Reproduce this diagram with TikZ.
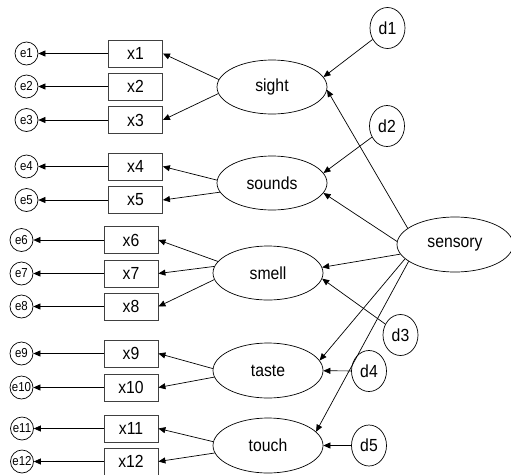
\documentclass[tikz,border=0pt]{standalone}
\usepackage{fontspec}
\setmainfont{Liberation Sans}
\newfontfamily\condfont[FakeStretch=0.9]{Liberation Sans}
\newfontfamily\condsmall[FakeStretch=0.88]{Liberation Sans}
\usetikzlibrary{arrows.meta,shapes.geometric}
\begin{document}
\begin{tikzpicture}[x=1pt,y=-1pt,
 box/.style={draw=black!75,line width=0.8pt,minimum width=54pt,minimum height=27pt,inner sep=0pt,font=\condfont\fontsize{17.5}{17.5}\selectfont},
 lat/.style={draw,ellipse,line width=0.7pt,minimum width=110pt,minimum height=54pt,inner sep=0pt,font=\condfont\fontsize{17.5}{17.5}\selectfont},
 err/.style={draw,circle,line width=0.7pt,minimum size=23pt,inner sep=0pt,font=\condsmall\fontsize{13}{13}\selectfont},
 dist/.style={draw,ellipse,line width=0.7pt,minimum width=35pt,minimum height=41pt,inner sep=0pt,font=\condfont\fontsize{17.5}{17.5}\selectfont},
 arr/.style={-{Triangle[length=7pt,width=6pt]},line width=0.7pt}]
\useasboundingbox (0,0) rectangle (511,474);
% error terms
\node[err] (e1) at (26.5,53.5) {e1};
\node[err] (e2) at (26.5,86.5) {e2};
\node[err] (e3) at (26.5,120) {e3};
\node[err] (e4) at (26.5,166.5) {e4};
\node[err] (e5) at (26.5,200) {e5};
\node[err] (e6) at (21.5,240) {e6};
\node[err] (e7) at (21.5,273.5) {e7};
\node[err] (e8) at (21.5,306.5) {e8};
\node[err] (e9) at (21.5,353.5) {e9};
\node[err] (e10) at (21.5,387.5) {e10};
\node[err] (e11) at (22,428.5) {e11};
\node[err] (e12) at (22,461.5) {e12};
% indicators
\node[box] (x1) at (135.5,53.5) {x1};
\node[box] (x2) at (135.5,86.5) {x2};
\node[box] (x3) at (135.5,120) {x3};
\node[box] (x4) at (135.5,166.5) {x4};
\node[box] (x5) at (135.5,200) {x5};
\node[box] (x6) at (131,240) {x6};
\node[box] (x7) at (131,273.5) {x7};
\node[box] (x8) at (131,306.5) {x8};
\node[box] (x9) at (131,353.5) {x9};
\node[box] (x10) at (131,387.5) {x10};
\node[box] (x11) at (131,428.5) {x11};
\node[box] (x12) at (131,461.5) {x12};
% latent
\node[lat] (sight) at (272,87) {sight};
\node[lat] (sounds) at (272,183) {sounds};
\node[lat] (smell) at (268,273) {smell};
\node[lat,minimum height=55pt] (taste) at (268,370.5) {taste};
\node[lat,minimum height=55pt] (touch) at (268,445.5) {touch};
\node[lat,minimum width=116pt,minimum height=55pt] (sensory) at (455,244.5) {sensory};
% disturbances
\node[dist] (d1) at (387.5,28) {d1};
\node[dist] (d2) at (387,126) {d2};
\node[dist] (d3) at (400.5,335) {d3};
\node[dist] (d4) at (369,371) {d4};
\node[dist] (d5) at (369,445.5) {d5};
% indicator -> error
\foreach \i in {1,...,12} {\draw[arr] (x\i) -- (e\i);}
% latent -> indicator
\draw[arr] (sight.172) -- (x1.east);
\draw[arr] (sight.187) -- (x3.east);
\draw[arr] (sounds.177) -- (x4.east);
\draw[arr] (sounds.190) -- (x5.east);
\draw[arr] (smell.167) -- (x6.east);
\draw[arr] (smell.173) -- (x7.east);
\draw[arr] (smell.187) -- (x8.east);
\draw[arr] (taste.178) -- (x9.east);
\draw[arr] (taste.187) -- (x10.east);
\draw[arr] (touch.176) -- (x11.east);
\draw[arr] (touch.188) -- (x12.east);
% second order
\draw[arr] (d1) -- (sight.11);
\draw[arr] (sensory.161) -- (sight.-3);
\draw[arr] (d2) -- (sounds.11);
\draw[arr] (sensory.177) -- (sounds.-11);
\draw[arr] (sensory.190) -- (smell.6);
\draw[arr] (d3) -- (smell.-6);
\draw[arr] (sensory.196) -- (taste.11);
\draw[arr] (d4) -- (taste);
\draw[arr] (sensory.200) -- (touch.16);
\draw[arr] (d5) -- (touch);
\end{tikzpicture}
\end{document}
